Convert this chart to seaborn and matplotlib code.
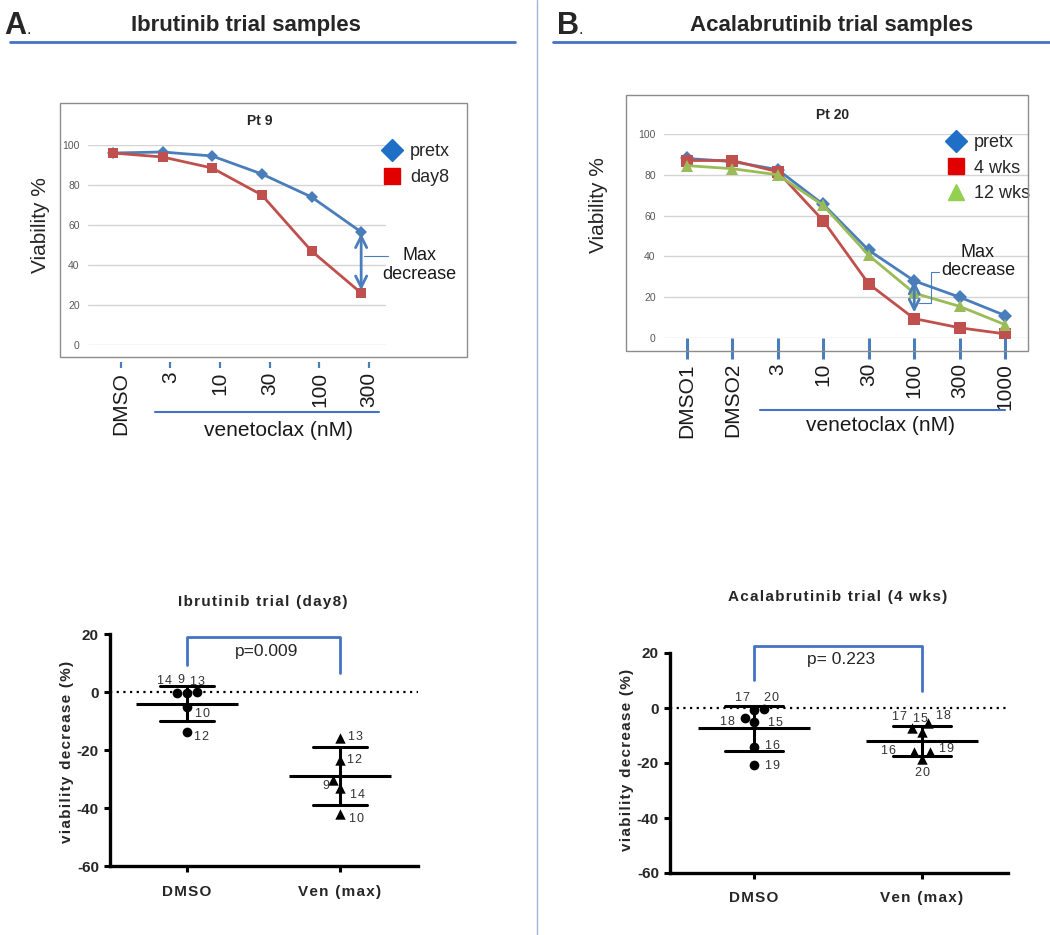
import numpy as np
import pandas as pd
import matplotlib
matplotlib.use("Agg")
import matplotlib.pyplot as plt
from matplotlib.lines import Line2D
from matplotlib.patches import Rectangle
import seaborn as sns

# ---- values ----
pt9_doses = ["DMSO", "3", "10", "30", "100", "300"]
pt9_pretx = [96, 96.5, 94.5, 85.5, 74, 56.5]
pt9_day8 = [96, 94, 88.5, 75, 47, 26]

pt20_doses = ["DMSO1", "DMSO2", "3", "10", "30", "100", "300", "1000"]
pt20_pretx = [88, 86.5, 82.5, 65.5, 43, 28, 20, 11]
pt20_4wks = [87, 87, 81.5, 57.5, 26.5, 9.5, 5, 2]
pt20_12wks = [84.5, 83, 80, 65, 40.5, 22, 15.5, 6.5]

groups = ["DMSO", "Ven (max)"]
ibr_dmso_ids = [14, 9, 13, 10, 12]
ibr_dmso = [0.0, -0.5, -0.3, -5.3, -13.8]
ibr_ven_ids = [13, 12, 9, 14, 10]
ibr_ven = [-15.9, -23.4, -30.3, -33.1, -42.1]
acal_dmso_ids = [17, 20, 18, 15, 16, 19]
acal_dmso = [-0.4, -0.7, -5.1, -3.6, -14.2, -20.7]
acal_ven_ids = [17, 15, 18, 16, 19, 20]
acal_ven = [-7.3, -8.7, -5.5, -16.0, -16.0, -18.5]
ibr_p = "p=0.009"
acal_p = "p= 0.223"

# label offsets in pixels (dx, dy) for the patient numbers
ibr_dmso_off = [(-22, 11), (-6, 13), (10, 11), (16, -7), (15, -5)]
ibr_ven_off = [(15, 1), (15, 0), (-14, -6), (18, -7), (17, -5)]
acal_dmso_off = [(-11, 11), (18, 12), (-27, 0), (21, -5), (19, 1), (19, -1)]
acal_ven_off = [(-22, 11), (-2, 13), (21, 7), (-33, 1), (25, 3), (1, -14)]

BLUE = "#4a7ebb"
RED = "#c0504d"
GREEN = "#9bbb59"
LINEBLUE = "#4472c4"

sns.set_style("white")
plt.rcParams["font.family"] = ["Liberation Sans", "DejaVu Sans"]
plt.rcParams["axes.unicode_minus"] = False
NARROW = ["Liberation Sans Narrow", "Liberation Sans", "DejaVu Sans"]

W, H = 1050, 935
fig = plt.figure(figsize=(W / 100, H / 100), dpi=100)


def rect(x0, y0, x1, y1):
    # pixel box with top-left origin -> figure fraction rect
    return [x0 / W, 1 - y1 / H, (x1 - x0) / W, (y1 - y0) / H]


def fx(x):
    return x / W


def fy(y):
    return 1 - y / H


def spaced(s):
    # prism-style loose letter spacing
    return "\u200a".join(s)


# ---- headers ----
fig.add_artist(Line2D([fx(537), fx(537)], [0, 1], color="#9fb6d6", lw=1))
fig.add_artist(Line2D([fx(10), fx(515)], [fy(42), fy(42)], color=LINEBLUE, lw=2))
fig.add_artist(Line2D([fx(553), fx(1050)], [fy(42), fy(42)], color=LINEBLUE, lw=2))
fig.text(fx(4), fy(26), "A", family=NARROW, fontsize=22, fontweight="bold", va="center")
fig.text(fx(26), fy(30), ".", family=NARROW, fontsize=12, va="center")
fig.text(fx(557), fy(26), "B", family=NARROW, fontsize=22, fontweight="bold", va="center")
fig.text(fx(579), fy(30), ".", family=NARROW, fontsize=12, va="center")
fig.text(fx(246), fy(26), "Ibrutinib trial samples", family=NARROW, fontsize=16,
         fontweight="bold", ha="center", va="center")
fig.text(fx(832), fy(26), "Acalabrutinib trial samples", family=NARROW, fontsize=16,
         fontweight="bold", ha="center", va="center")


def dose_chart(r, doses, series, tick_shift, tick_len, tick_w, tick_out):
    ax = fig.add_axes(r)
    pos = np.arange(len(doses))
    for vals, color, marker, ms in series:
        sns.lineplot(x=pos, y=vals, color=color, marker=marker, markersize=ms,
                     markeredgewidth=0, linewidth=2, ax=ax)
    ax.set_xlim(-0.5, len(doses) - 0.5)
    ax.set_ylim(0, 100)
    ax.set_yticks(range(0, 101, 20))
    ax.grid(axis="y", color="#d4d4d4", lw=1)
    ax.grid(axis="x", visible=False)
    for s in ax.spines.values():
        s.set_visible(False)
    ax.spines["bottom"].set_position(("outward", tick_out))
    ax.set_xticks(pos + tick_shift)
    ax.set_xticklabels(doses, rotation=90, fontsize=15, color="#1a1a1a")
    ax.tick_params(axis="x", length=tick_len, width=tick_w, color=BLUE,
                   direction="out", pad=3, bottom=True)
    ax.tick_params(axis="y", length=0, labelsize=7.5, labelcolor="#595959", pad=6)
    ax.set_xlabel("")
    ax.set_ylabel("")
    return ax


# ---- Pt 9 ----
fig.add_artist(Rectangle((fx(60), fy(357)), fx(467) - fx(60), fy(103) - fy(357),
                         transform=fig.transFigure, fill=False, ec="#8c8c8c", lw=1))
ax9 = dose_chart(rect(88, 145, 386, 345), pt9_doses,
                 [(pt9_pretx, BLUE, "D", 6), (pt9_day8, RED, "s", 7)],
                 0.16, 4.3, 1.6, 12)
fig.text(fx(260), fy(121), "Pt 9", fontsize=10, fontweight="bold", ha="center", va="center")
fig.text(fx(40), fy(225), "Viability %", fontsize=15, rotation=90, ha="center", va="center",
         color="#262626")
ax9.annotate("", xy=(5, pt9_day8[5]), xytext=(5, pt9_pretx[5]),
             arrowprops=dict(arrowstyle="<->", color=BLUE, lw=2, shrinkA=1, shrinkB=2,
                             mutation_scale=20))
ax9.plot([5.05, 5.55], [44.5, 44.5], color=BLUE, lw=0.8, clip_on=False)
ax9.text(6.17, 40, "Max\ndecrease", fontsize=13, ha="center", va="center",
         linespacing=1.15, color="#1a1a1a", clip_on=False)
ax9.legend(handles=[Line2D([], [], marker="D", color="#1f6fc6", ls="none", ms=11),
                    Line2D([], [], marker="s", color="#e00000", ls="none", ms=11)],
           labels=["pretx", "day8"], loc="upper left", bbox_to_anchor=(fx(383), fy(143)),
           bbox_transform=fig.transFigure, frameon=False, fontsize=13, handlelength=1,
           handletextpad=0.5, labelspacing=0.5, borderpad=0, borderaxespad=0)
fig.add_artist(Line2D([fx(155), fx(379)], [fy(412), fy(412)], color=LINEBLUE, lw=1.5))
fig.text(fx(278), fy(430), "venetoclax (nM)", fontsize=15, ha="center", va="center",
         color="#1a1a1a")

# ---- Pt 20 ----
fig.add_artist(Rectangle((fx(626), fy(351)), fx(1028) - fx(626), fy(95) - fy(351),
                         transform=fig.transFigure, fill=False, ec="#8c8c8c", lw=1))
ax20 = dose_chart(rect(664, 134, 1028, 338), pt20_doses,
                  [(pt20_pretx, BLUE, "D", 7), (pt20_4wks, RED, "s", 8),
                   (pt20_12wks, GREEN, "^", 9)],
                  0, 15, 2.2, 0)
fig.text(fx(833), fy(115), "Pt 20", fontsize=10, fontweight="bold", ha="center", va="center")
fig.text(fx(598), fy(205), "Viability %", fontsize=15, rotation=90, ha="center", va="center",
         color="#262626")
ax20.annotate("", xy=(5, 12.5), xytext=(5, pt20_pretx[5]),
              arrowprops=dict(arrowstyle="<->", color=BLUE, lw=2, shrinkA=0, shrinkB=0,
                              mutation_scale=18))
ax20.plot([5.1, 5.37, 5.37, 5.55], [17.2, 17.2, 32.4, 32.4], color=BLUE, lw=0.8,
          clip_on=False)
ax20.text(6.4, 37.5, "Max\ndecrease", fontsize=13, ha="center", va="center",
          linespacing=1.15, color="#1a1a1a", clip_on=False)
ax20.legend(handles=[Line2D([], [], marker="D", color="#1f6fc6", ls="none", ms=11),
                     Line2D([], [], marker="s", color="#e00000", ls="none", ms=11),
                     Line2D([], [], marker="^", color="#92d050", ls="none", ms=12)],
            labels=["pretx", "4 wks", "12 wks"], loc="upper left",
            bbox_to_anchor=(fx(947), fy(134)), bbox_transform=fig.transFigure,
            frameon=False, fontsize=13, handlelength=1, handletextpad=0.5,
            labelspacing=0.48, borderpad=0, borderaxespad=0)
fig.add_artist(Line2D([fx(760), fx(1005)], [fy(410), fy(410)], color=LINEBLUE, lw=1.5))
fig.text(fx(880), fy(426), "venetoclax (nM)", fontsize=15, ha="center", va="center",
         color="#1a1a1a")


def scatter_chart(r, dmso_ids, dmso, ven_ids, ven, dmso_off, ven_off, xlim,
                  p_text, bracket, title, title_xy, ylabel_xy, xpad):
    ax = fig.add_axes(r)
    df = pd.DataFrame({"group": [groups[0]] * len(dmso) + [groups[1]] * len(ven),
                       "value": dmso + ven})
    sns.swarmplot(data=df[df.group == groups[0]], x="group", y="value", order=groups,
                  marker="o", color="black", size=7, ax=ax)
    sns.swarmplot(data=df[df.group == groups[1]], x="group", y="value", order=groups,
                  marker="^", color="black", size=7.5, ax=ax)
    width_px = r[2] * W / (xlim[1] - xlim[0])
    sns.pointplot(data=df, x="group", y="value", order=groups, errorbar="sd",
                  capsize=0.35, color="black", linestyle="none", marker="_",
                  markersize=0.67 * width_px * 0.72, markeredgewidth=2.2,
                  err_kws={"linewidth": 2.2}, ax=ax)
    ax.axhline(0, color="black", ls=(0, (1, 2)), lw=1.6, zorder=0)
    for i, (ids, vals, offs) in enumerate([(dmso_ids, dmso, dmso_off),
                                           (ven_ids, ven, ven_off)]):
        for pid, v, (dx, dy) in zip(ids, vals, offs):
            ax.annotate(spaced(str(pid)), xy=(i, v), xytext=(dx, dy),
                        textcoords="offset pixels", fontsize=9, color="#333333",
                        ha="center", va="center")
    # significance bracket
    l_low, top, r_low = bracket
    ax.plot([0, 0, 1, 1], [l_low, top, top, r_low], color=LINEBLUE, lw=2, clip_on=False)
    ax.text(0.52, top - 5, p_text, fontsize=12.5, ha="center", va="center")
    ax.set_xlim(*xlim)
    ax.set_ylim(-60, 20)
    ax.set_yticks(range(-60, 21, 20))
    ax.set_xticks([0, 1])
    ax.set_xticklabels([spaced(g) for g in groups])
    sns.despine(ax=ax)
    for s in ["left", "bottom"]:
        ax.spines[s].set_linewidth(2.4)
        ax.spines[s].set_color("black")
    ax.tick_params(length=4, width=2.2, direction="out", color="black", left=True,
                   bottom=True, pad=4)
    for lab in ax.get_yticklabels() + ax.get_xticklabels():
        lab.set_fontweight("bold")
        lab.set_fontsize(11)
    ax.tick_params(axis="x", pad=xpad)
    ax.set_xlabel("")
    ax.set_ylabel("")
    fig.text(fx(title_xy[0]), fy(title_xy[1]), spaced(title), fontsize=11, fontweight="bold",
             ha="center", va="center")
    fig.text(fx(ylabel_xy[0]), fy(ylabel_xy[1]), spaced("viability decrease (%)"),
             fontsize=11, fontweight="bold", rotation=90, ha="center", va="center")
    return ax


scatter_chart(rect(110, 634, 418, 866), ibr_dmso_ids, ibr_dmso, ibr_ven_ids, ibr_ven,
              ibr_dmso_off, ibr_ven_off, (-0.503, 1.51), ibr_p, (9.3, 19, 6.6),
              "Ibrutinib trial (day8)", (263, 602), (67, 752), 10)
scatter_chart(rect(670, 653, 1008, 873), acal_dmso_ids, acal_dmso, acal_ven_ids, acal_ven,
              acal_dmso_off, acal_ven_off, (-0.5, 1.512), acal_p, (10.2, 22.5, 6.2),
              "Acalabrutinib trial (4 wks)", (838, 597), (627, 760), 9)

fig.savefig("out.png", dpi=100)
